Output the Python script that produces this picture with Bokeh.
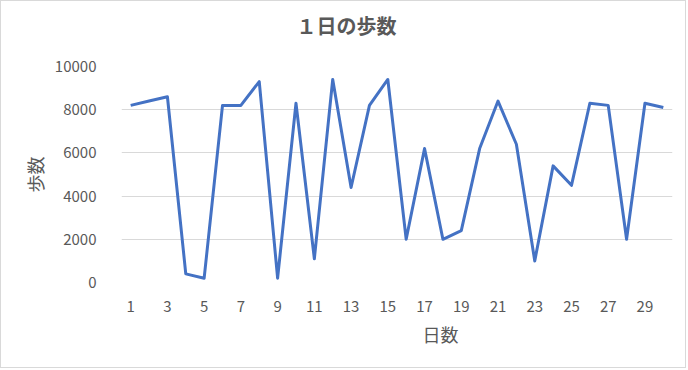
from bokeh.plotting import figure
from bokeh.models import FixedTicker, Range1d, Title
from bokeh.embed import file_html
from bokeh.resources import INLINE

days = list(range(1, 31))
steps = [8200, 8400, 8600, 400, 200, 8200, 8200, 9300, 200, 8300,
         1100, 9400, 4400, 8200, 9400, 2000, 6200, 2000, 2400, 6200,
         8400, 6400, 1000, 5400, 4500, 8300, 8200, 2000, 8300, 8100]
x_ticks = list(range(1, 30, 2))
y_ticks = [0, 2000, 4000, 6000, 8000, 10000]
title_text = "１日の歩数"
x_label = "日数"
y_label = "歩数"

FONT = "Noto Sans CJK JP"
TXT = "#595959"

p = figure(width=686, height=368, output_backend="svg", toolbar_location=None,
           x_range=Range1d(0.5, 30.5), y_range=Range1d(0, 10000),
           min_border_left=120, min_border_right=15, min_border_top=65, min_border_bottom=87)
p.styles = {"border": "1px solid #D9D9D9"}

p.line(days, steps, line_color="#4472C4", line_width=3, line_join="round")

p.title.text = title_text
p.title.text_font = FONT
p.title.text_font_size = "20px"
p.title.text_color = TXT
p.title.text_font_style = "bold"
p.title.align = "left"
p.title.offset = 175
p.title.standoff = 0

# spacer between the title and the plot frame
spacer = Title(text=" ", text_font_size="1px", standoff=24)
p.add_layout(spacer, "above")

p.outline_line_color = None
p.xgrid.grid_line_color = None
p.ygrid.grid_line_color = "#D9D9D9"
p.ygrid.grid_line_width = 1

for ax in (p.xaxis[0], p.yaxis[0]):
    ax.axis_line_color = None
    ax.major_tick_line_color = None
    ax.minor_tick_line_color = None
    ax.major_label_text_font = FONT
    ax.major_label_text_font_size = "15px"
    ax.major_label_text_color = TXT

p.xaxis.ticker = FixedTicker(ticks=x_ticks)
p.yaxis.ticker = FixedTicker(ticks=y_ticks)
p.xaxis.major_label_standoff = 12
p.yaxis.major_label_standoff = 19

p.yaxis.axis_label = y_label
p.yaxis.axis_label_text_font = FONT
p.yaxis.axis_label_text_font_size = "18px"
p.yaxis.axis_label_text_font_style = "normal"
p.yaxis.axis_label_text_color = TXT
p.yaxis.axis_label_standoff = 4

xt = Title(text=x_label, text_font=FONT, text_font_size="18px", text_font_style="normal",
           text_color=TXT, align="left", offset=301, standoff=9)
p.add_layout(xt, "below")

open("out.html", "w").write(file_html(p, INLINE))
